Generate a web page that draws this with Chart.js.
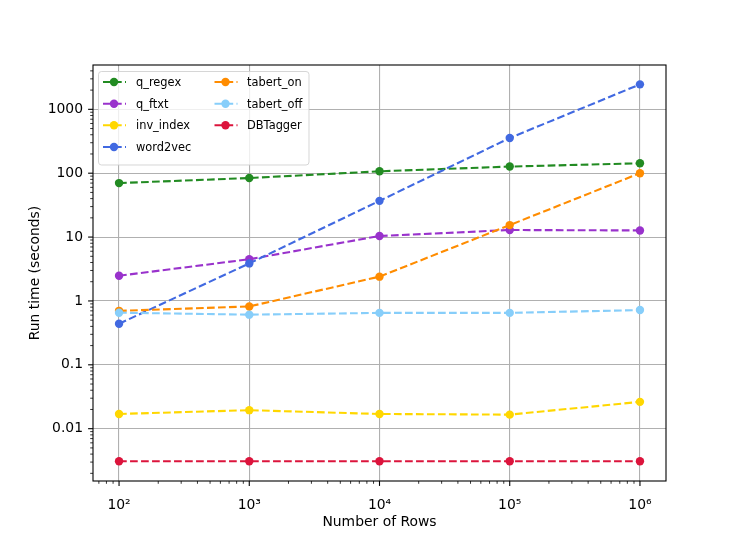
<!DOCTYPE html>
<html><head><meta charset="utf-8">
<script src="https://cdn.jsdelivr.net/npm/chart.js@4.4.1/dist/chart.umd.min.js"></script>
<style>html,body{margin:0;padding:0;background:#fff;overflow:hidden;} #wrap{width:740px;height:540px;}</style>
</head><body><div id="wrap"><canvas id="c" width="740" height="540"></canvas></div>
<script>
const rows = [100, 1000, 10000, 100000, 1000000];
const xTickValues = [100, 1000, 10000, 100000, 1000000];
const xTickLabels = ['10\u00B2', '10\u00B3', '10\u2074', '10\u2075', '10\u2076'];
const yTickValues = [0.01, 0.1, 1, 10, 100, 1000];
const yTickLabels = ['0.01', '0.1', '1', '10', '100', '1000'];
const seriesNames = ['q_regex', 'q_ftxt', 'inv_index', 'word2vec', 'tabert_on', 'tabert_off', 'DBTagger'];
const q_regex = [70, 84, 107, 127, 143];
const q_ftxt = [2.48, 4.5, 10.4, 12.9, 12.7];
const inv_index = [0.017, 0.0195, 0.017, 0.0166, 0.0263];
const word2vec = [0.44, 3.87, 36.9, 355, 2460];
const tabert_on = [0.70, 0.82, 2.40, 15.4, 100];
const tabert_off = [0.655, 0.61, 0.65, 0.65, 0.72];
const DBTagger = [0.0031, 0.0031, 0.0031, 0.0031, 0.0031];
const seriesValues = [q_regex, q_ftxt, inv_index, word2vec, tabert_on, tabert_off, DBTagger];
const colors = ['#228B22', '#9932CC', '#FFD700', '#4169E1', '#FF8C00', '#87CEFA', '#DC143C'];

const FONT = "'DejaVu Sans', 'Liberation Sans', sans-serif";
const FS = 13.9;
const xMin = Math.pow(10, 1.8), xMax = Math.pow(10, 6.2);
const yMin = Math.pow(10, -2.819), yMax = Math.pow(10, 3.694);

function isPow10(v) {
  const l = Math.log10(v);
  return Math.abs(l - Math.round(l)) < 1e-6;
}
function logTicks(min, max) {
  const out = [];
  for (let e = Math.floor(Math.log10(min)); e <= Math.ceil(Math.log10(max)); e++) {
    for (let m = 1; m <= 9; m++) {
      const v = m * Math.pow(10, e);
      if (v >= min * 0.9999 && v <= max * 1.0001) out.push({value: v, major: m === 1});
    }
  }
  return out;
}
function findLabel(vals, labels, v) {
  for (let i = 0; i < vals.length; i++) if (Math.abs(Math.log10(vals[i]) - Math.log10(v)) < 1e-6) return labels[i];
  return '';
}

Chart.defaults.font.family = FONT;
Chart.defaults.font.size = FS;
Chart.defaults.color = '#000';

const datasets = seriesNames.map((name, i) => ({
  label: name,
  data: rows.map((r, j) => ({x: r, y: seriesValues[i][j]})),
  borderColor: colors[i],
  backgroundColor: colors[i],
  pointBackgroundColor: colors[i],
  pointBorderColor: colors[i],
  borderWidth: 2.1,
  borderDash: [7.7, 3.3],
  pointRadius: 4.2,
  pointBorderWidth: 0,
  pointHoverRadius: 4.2,
  tension: 0,
  order: seriesNames.length - i
}));

const framePlugin = {
  id: 'frameTicks',
  afterDatasetsDraw(chart) {
    const {ctx, chartArea: a, scales} = chart;
    ctx.save();
    ctx.strokeStyle = '#000';
    const xs = scales.x, ys = scales.y;
    logTicks(xMin, xMax).forEach(t => {
      const px = xs.getPixelForValue(t.value);
      ctx.lineWidth = t.major ? 1.1 : 0.8;
      ctx.beginPath();
      ctx.moveTo(px, a.bottom);
      ctx.lineTo(px, a.bottom + (t.major ? 4.9 : 2.8));
      ctx.stroke();
    });
    logTicks(yMin, yMax).forEach(t => {
      const py = ys.getPixelForValue(t.value);
      ctx.lineWidth = t.major ? 1.1 : 0.8;
      ctx.beginPath();
      ctx.moveTo(a.left, py);
      ctx.lineTo(a.left - (t.major ? 4.9 : 2.8), py);
      ctx.stroke();
    });
    ctx.lineWidth = 1.1;
    ctx.strokeStyle = '#000';
    ctx.strokeRect(a.left, a.top, a.right - a.left, a.bottom - a.top);
    ctx.restore();
  },
  afterDraw(chart) {
    const ctx = chart.ctx;
    ctx.save();
    const bx = 98.5, by = 71.5, bw = 210.5, bh = 93.5, r = 3;
    ctx.beginPath();
    ctx.moveTo(bx + r, by);
    ctx.lineTo(bx + bw - r, by);
    ctx.arcTo(bx + bw, by, bx + bw, by + r, r);
    ctx.lineTo(bx + bw, by + bh - r);
    ctx.arcTo(bx + bw, by + bh, bx + bw - r, by + bh, r);
    ctx.lineTo(bx + r, by + bh);
    ctx.arcTo(bx, by + bh, bx, by + bh - r, r);
    ctx.lineTo(bx, by + r);
    ctx.arcTo(bx, by, bx + r, by, r);
    ctx.closePath();
    ctx.fillStyle = 'rgba(255,255,255,0.8)';
    ctx.fill();
    ctx.strokeStyle = 'rgba(204,204,204,0.8)';
    ctx.lineWidth = 1;
    ctx.stroke();
    const cols = [{lx: 103, tx: 136}, {lx: 214.5, tx: 247}];
    const rowY = [82, 103.7, 125.3, 147];
    seriesNames.forEach((name, i) => {
      const c = i < 4 ? cols[0] : cols[1];
      const y = rowY[i < 4 ? i : i - 4];
      ctx.strokeStyle = colors[i];
      ctx.lineWidth = 2.1;
      ctx.setLineDash([7.7, 3.3]);
      ctx.beginPath();
      ctx.moveTo(c.lx, y);
      ctx.lineTo(c.lx + 23, y);
      ctx.stroke();
      ctx.setLineDash([]);
      ctx.fillStyle = colors[i];
      ctx.beginPath();
      ctx.arc(c.lx + 11, y, 4.2, 0, Math.PI * 2);
      ctx.fill();
      ctx.fillStyle = '#000';
      ctx.font = '11.4px ' + FONT;
      ctx.textBaseline = 'middle';
      ctx.textAlign = 'left';
      ctx.fillText(name, c.tx, y + 1);
    });
    ctx.restore();
  }
};

new Chart(document.getElementById('c'), {
  type: 'line',
  data: {datasets},
  options: {
    responsive: false,
    animation: false,
    devicePixelRatio: 1,
    layout: {padding: {left: 0, right: 74, top: 65, bottom: 0}},
    plugins: {legend: {display: false}, tooltip: {enabled: false}},
    events: [],
    scales: {
      x: {
        type: 'logarithmic',
        min: xMin, max: xMax,
        afterFit(s) { s.height = 59; },
        afterBuildTicks(s) { s.ticks = logTicks(xMin, xMax); },
        ticks: {
          autoSkip: false, maxRotation: 0, minRotation: 0, padding: 16,
          font: {size: FS, family: FONT}, color: '#000',
          callback(v) { return isPow10(v) ? findLabel(xTickValues, xTickLabels, v) : ''; }
        },
        grid: {
          drawTicks: false,
          lineWidth: 1.1,
          color(c) { return c.tick && isPow10(c.tick.value) ? '#b0b0b0' : 'rgba(0,0,0,0)'; }
        },
        border: {display: false},
        title: {display: true, text: 'Number of Rows', font: {size: FS, family: FONT}, color: '#000', padding: {top: 0, bottom: 9.5}}
      },
      y: {
        type: 'logarithmic',
        min: yMin, max: yMax,
        afterFit(s) { s.width = 93; },
        afterBuildTicks(s) { s.ticks = logTicks(yMin, yMax); },
        ticks: {
          autoSkip: false, padding: 10,
          font: {size: FS, family: FONT}, color: '#000',
          callback(v) { return isPow10(v) ? findLabel(yTickValues, yTickLabels, v) : ''; }
        },
        grid: {
          drawTicks: false,
          lineWidth: 1.1,
          color(c) { return c.tick && isPow10(c.tick.value) ? '#b0b0b0' : 'rgba(0,0,0,0)'; }
        },
        border: {display: false},
        title: {display: true, text: 'Run time (seconds)', font: {size: FS, family: FONT}, color: '#000', padding: {top: 27.5, bottom: 0}}
      }
    }
  },
  plugins: [framePlugin]
});
</script>
</body></html>
